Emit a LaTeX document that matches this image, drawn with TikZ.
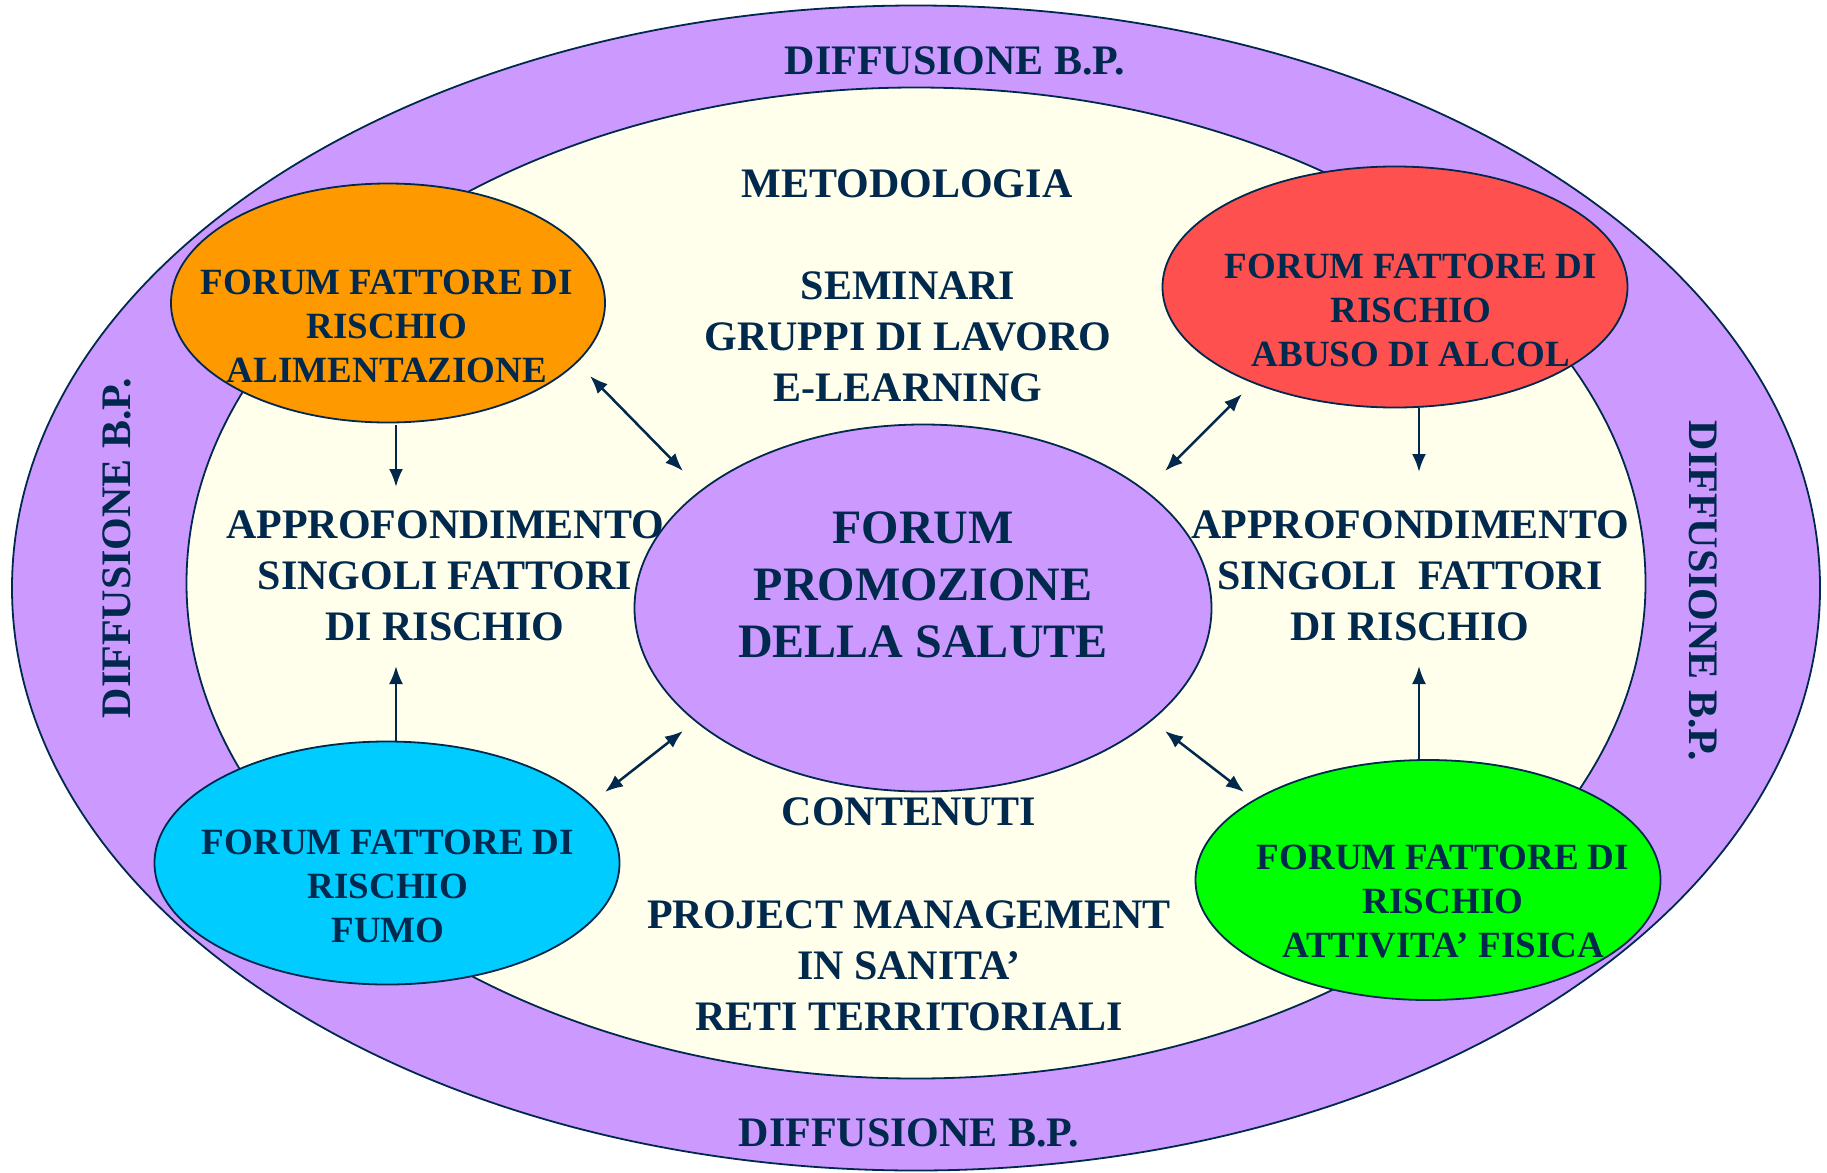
\documentclass[tikz,border=0pt]{standalone}
\usepackage{fontspec}
\setmainfont{Liberation Serif}
\usetikzlibrary{shapes.geometric,arrows.meta}
\definecolor{navy}{RGB}{0,41,77}
\definecolor{lilac}{RGB}{204,153,255}
\definecolor{cream}{RGB}{255,255,235}
\definecolor{orng}{RGB}{255,153,0}
\definecolor{rd}{RGB}{255,80,80}
\definecolor{cyn}{RGB}{0,204,255}
\definecolor{grn}{RGB}{0,255,0}
\begin{document}
\begin{tikzpicture}[x=1pt,y=-1pt,
  ell/.style={ellipse, draw=navy, line width=1.8pt, inner sep=0pt},
  txt/.style={text=navy, font=\bfseries\fontsize{42}{51}\selectfont, align=center, inner sep=0pt},
  bigtxt/.style={text=navy, font=\bfseries\fontsize{48}{57}\selectfont, align=center, inner sep=0pt},
  ftxt/.style={text=navy, font=\bfseries\fontsize{37}{44}\selectfont, align=center, inner sep=0pt},
  arr/.style={draw=navy, line width=2.5pt, -{Latex[length=18pt,width=14pt]}},
  darr/.style={draw=navy, line width=2.5pt, {Latex[length=18pt,width=14pt]}-{Latex[length=18pt,width=14pt]}}]
\useasboundingbox (0,0) rectangle (1827,1172);
% rings
\node[ell, fill=lilac, minimum width=1808pt, minimum height=1165pt] (outer) at (916,588) {};
\node[ell, fill=cream, minimum width=1459pt, minimum height=991pt] (inner) at (916,583) {};
% forum ellipses
\node[ell, fill=orng, minimum width=434pt, minimum height=239pt] (alim) at (388,303) {};
\node[ell, fill=rd, minimum width=465pt, minimum height=241pt] (alcol) at (1395,287) {};
\node[ell, fill=cyn, minimum width=465pt, minimum height=243pt] (fumo) at (387,863) {};
\node[ell, fill=grn, minimum width=465pt, minimum height=240pt] (fisica) at (1428,880) {};
\node[ell, fill=lilac, minimum width=577pt, minimum height=367pt] (centre) at (923,608) {};
% ring labels
\node[txt] (dtop) at (955,61) {DIFFUSIONE B.P.};
\node[txt] (dbot) at (909,1133) {DIFFUSIONE B.P.};
\node[txt, rotate=90] (dleft) at (117,548) {DIFFUSIONE B.P.};
\node[txt, rotate=-90] (dright) at (1703,591) {DIFFUSIONE B.P.};
% inner texts
\node[txt] (metod) at (907,184) {METODOLOGIA};
\node[txt] (semin) at (908,337) {SEMINARI\\GRUPPI DI LAVORO\\E-LEARNING};
\node[txt] (appl) at (445,576) {APPROFONDIMENTO\\SINGOLI FATTORI\\DI RISCHIO};
\node[txt] (appr) at (1410,576) {APPROFONDIMENTO\\SINGOLI\ \ FATTORI\\DI RISCHIO};
\node[txt] (cont) at (909,812) {CONTENUTI};
\node[txt] (proj) at (909,966) {PROJECT MANAGEMENT\\IN SANITA’\\RETI TERRITORIALI};
\node[bigtxt] (ctext) at (923,585) {FORUM\\PROMOZIONE\\DELLA SALUTE};
% forum texts
\node[ftxt] (talim) at (387,326) {FORUM FATTORE DI\\RISCHIO\\ALIMENTAZIONE};
\node[ftxt] (talcol) at (1411,310) {FORUM FATTORE DI\\RISCHIO\\ABUSO DI ALCOL};
\node[ftxt] (tfumo) at (388,886) {FORUM FATTORE DI\\RISCHIO\\FUMO};
\node[ftxt] (tfisica) at (1443,902) {FORUM FATTORE DI\\RISCHIO\\ATTIVITA’ FISICA};
% arrow end points
\coordinate (a1s) at (396,425); \coordinate (a1e) at (396,487);
\coordinate (a2s) at (396,742); \coordinate (a2e) at (396,666);
\coordinate (a3s) at (1419,408); \coordinate (a3e) at (1419,472);
\coordinate (a4s) at (1419,760); \coordinate (a4e) at (1419,666);
\coordinate (d1s) at (590,376); \coordinate (d1e) at (683,471);
\coordinate (d2s) at (1242,394); \coordinate (d2e) at (1165,471);
\coordinate (d3s) at (683,731); \coordinate (d3e) at (605,792);
\coordinate (d4s) at (1165,731); \coordinate (d4e) at (1244,792);
\draw[arr] (a1s) -- (a1e);
\draw[arr] (a2s) -- (a2e);
\draw[arr] (a3s) -- (a3e);
\draw[arr] (a4s) -- (a4e);
\draw[darr] (d1s) -- (d1e);
\draw[darr] (d2s) -- (d2e);
\draw[darr] (d3s) -- (d3e);
\draw[darr] (d4s) -- (d4e);
\end{tikzpicture}
\end{document}
